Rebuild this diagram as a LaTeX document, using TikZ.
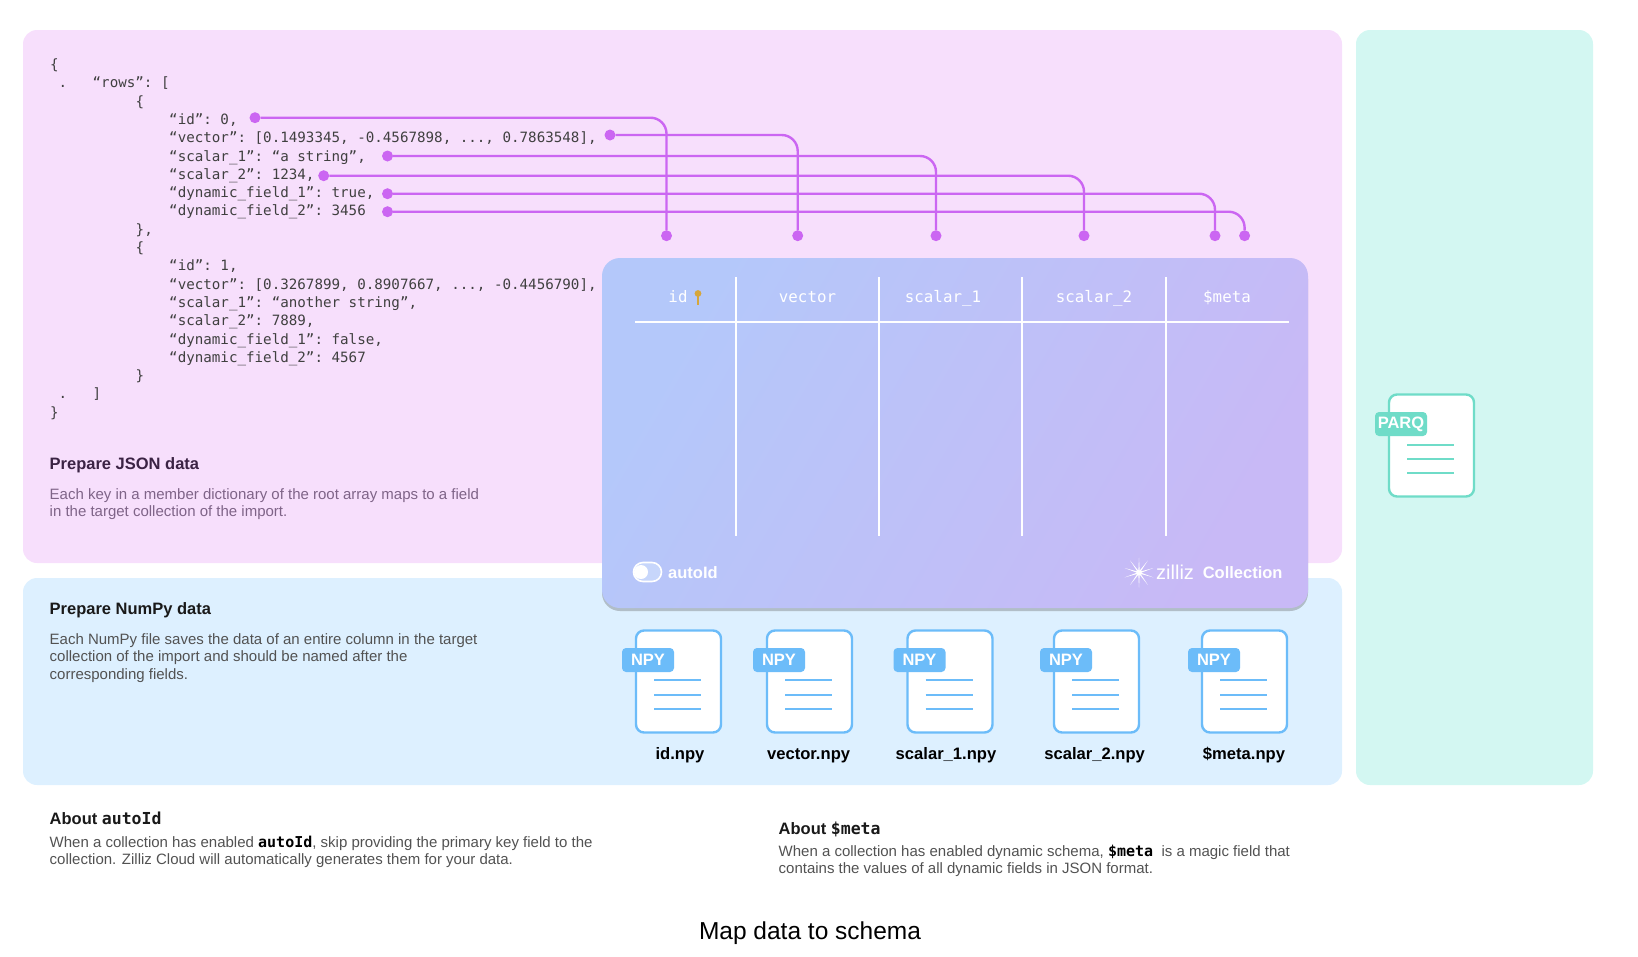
\documentclass[tikz,border=0pt]{standalone}
\usepackage{fontspec}
\setmainfont{Liberation Sans}
\setmonofont{DejaVu Sans Mono}
\usetikzlibrary{shapes.geometric}
\usetikzlibrary{shadows}
\definecolor{jsonpink}{HTML}{F7DFFC}
\definecolor{jsonhead}{HTML}{3B2344}
\definecolor{jsonbody}{HTML}{7F6488}
\definecolor{npyblue}{HTML}{DDF0FF}
\definecolor{parqteal}{HTML}{D3F7F2}
\definecolor{linkpurple}{HTML}{CB66F2}
\definecolor{npyedge}{HTML}{6CBCF9}
\definecolor{parqedge}{HTML}{6FDCC8}
\definecolor{cardleft}{HTML}{B4C8FA}
\definecolor{cardright}{HTML}{C8B9F6}
\definecolor{keygold}{HTML}{D6A63A}
\tikzset{
  panel/.style={rounded corners=14pt,inner sep=0pt},
  codeline/.style={anchor=base west,inner sep=0pt,text=black!75,font=\ttfamily\fontsize{14.2}{17}\selectfont},
  headline/.style={anchor=base west,inner sep=0pt,font=\bfseries\fontsize{16.5}{19}\selectfont},
  bodytext/.style={anchor=north west,inner sep=0pt,align=left,text=black!68,font=\fontsize{15}{17.4}\selectfont},
  linkdot/.style={circle,fill=linkpurple,inner sep=0pt,minimum size=11pt},
  linkline/.style={linkpurple,line width=2.4pt,rounded corners=16pt},
  column/.style={anchor=base,inner sep=0pt,text=white,font=\ttfamily\fontsize{15.8}{19}\selectfont},
  gridline/.style={white,line width=2pt},
  doc/.style={draw,fill=white,line width=2.4pt,rounded corners=8pt,inner sep=0pt,minimum width=85pt,minimum height=102pt},
  doctag/.style={rounded corners=4pt,inner sep=0pt,text=white,minimum height=24pt,font=\bfseries\fontsize{16.5}{20}\selectfont},
  docname/.style={anchor=base,inner sep=0pt,text=black,font=\bfseries\fontsize{16.6}{19}\selectfont},
}

\begin{document}
\begin{tikzpicture}[x=1pt,y=-1pt]
\useasboundingbox (0,0) rectangle (1638,956);

% panels
\node[panel,fill=jsonpink,minimum width=1319pt,minimum height=533pt] (json) at (682.5,296.5) {};
\node[panel,fill=npyblue,minimum width=1319pt,minimum height=207pt] (npy) at (682.5,681.5) {};
\node[panel,fill=parqteal,minimum width=237pt,minimum height=755pt] (parq) at (1474.5,407.5) {};

% json sample
\node[codeline] (j1) at (50,69.5) {\{};
\node[codeline] (j2) at (58.3,87.8) {.\ \ \ “rows”: [};
\node[codeline] (j3) at (135.5,106.1) {\{};
\node[codeline] (j4) at (169,124.4) {“id”: 0,};
\node[codeline] (j5) at (169,142.7) {“vector”: [0.1493345, -0.4567898, ..., 0.7863548],};
\node[codeline] (j6) at (169,161) {“scalar\_1”: “a string”,};
\node[codeline] (j7) at (169,179.3) {“scalar\_2”: 1234,};
\node[codeline] (j8) at (169,197.6) {“dynamic\_field\_1”: true,};
\node[codeline] (j9) at (169,215.9) {“dynamic\_field\_2”: 3456};
\node[codeline] (j10) at (135.5,234.2) {\},};
\node[codeline] (j11) at (135.5,252.5) {\{};
\node[codeline] (j12) at (169,270.8) {“id”: 1,};
\node[codeline] (j13) at (169,289.1) {“vector”: [0.3267899, 0.8907667, ..., -0.4456790],};
\node[codeline] (j14) at (169,307.4) {“scalar\_1”: “another string”,};
\node[codeline] (j15) at (169,325.7) {“scalar\_2”: 7889,};
\node[codeline] (j16) at (169,344) {“dynamic\_field\_1”: false,};
\node[codeline] (j17) at (169,362.3) {“dynamic\_field\_2”: 4567};
\node[codeline] (j18) at (135.5,380.6) {\}};
\node[codeline] (j19) at (58.3,398.9) {.\ \ \ ]};
\node[codeline] (j20) at (50,417.2) {\}};

% dots on the json keys
\node[linkdot] (kid) at (255,117.7) {};
\node[linkdot] (kvector) at (610,135) {};
\node[linkdot] (kscalar1) at (387.5,156) {};
\node[linkdot] (kscalar2) at (323.7,175.7) {};
\node[linkdot] (kdynamic1) at (387.5,193.7) {};
\node[linkdot] (kdynamic2) at (387.5,211.7) {};

% dots above the columns
\node[linkdot] (cid) at (666.5,235.7) {};
\node[linkdot] (cvector) at (797.7,235.7) {};
\node[linkdot] (cscalar1) at (936,235.7) {};
\node[linkdot] (cscalar2) at (1084,235.7) {};
\node[linkdot] (cdynamic1) at (1215,235.7) {};
\node[linkdot] (cdynamic2) at (1244.6,235.7) {};

\draw[linkline] (kid) -| (cid);
\draw[linkline] (kvector) -| (cvector);
\draw[linkline] (kscalar1) -| (cscalar1);
\draw[linkline] (kscalar2) -| (cscalar2);
\draw[linkline] (kdynamic1) -| (cdynamic1);
\draw[linkline] (kdynamic2) -| (cdynamic2);

% collection card
\node[rounded corners=18pt,inner sep=0pt,minimum width=706pt,minimum height=350pt,
      left color=cardleft,right color=cardright,shading angle=60,
      drop shadow={shadow xshift=0pt,shadow yshift=-3pt,opacity=.3,fill=black!70}] (card) at (955,433) {};

\draw[gridline] (635,322) -- (1289,322);
\draw[gridline] (736,277) -- (736,536);
\draw[gridline] (879,277) -- (879,536);
\draw[gridline] (1022,277) -- (1022,536);
\draw[gridline] (1165.5,277) -- (1165.5,536);

\node[column] (hid) at (678,302) {id};
\node[column] (hvector) at (807.5,302) {vector};
\node[column] (hscalar1) at (943,302) {scalar\_1};
\node[column] (hscalar2) at (1094,302) {scalar\_2};
\node[column] (hmeta) at (1227,302) {\$meta};

% key next to id
\fill[keygold] (698,293.5) circle (3.4pt);
\draw[keygold,line width=1.8pt] (698,294) -- (698,305);

% toggle
\node[draw=white,line width=1.6pt,fill=white!25!cardleft,rounded corners=9.5pt,inner sep=0pt,minimum width=28pt,minimum height=19pt] (toggle) at (647.5,572) {};
\node[circle,fill=white,inner sep=0pt,minimum size=14pt] (knob) at (641,572) {};
\node[anchor=base west,inner sep=0pt,text=white,font=\bfseries\fontsize{16.5}{19}\selectfont] (autoid) at (668,578) {autoId};

\node[star,star points=10,star point ratio=7,fill=white,inner sep=0pt,minimum size=30pt] (spark) at (1139,572.7) {};
\node[anchor=base west,inner sep=0pt,text=white,font=\fontsize{20}{22}\selectfont] (zilliz) at (1156,579) {zilliz};
\node[anchor=base west,inner sep=0pt,text=white,font=\bfseries\fontsize{16.5}{19}\selectfont] (collection) at (1202.6,578) {Collection};

% npy files
\node[doc,draw=npyedge] (f1) at (678.5,681.5) {};
\node[doc,draw=npyedge] (f2) at (809.5,681.5) {};
\node[doc,draw=npyedge] (f3) at (950,681.5) {};
\node[doc,draw=npyedge] (f4) at (1096.5,681.5) {};
\node[doc,draw=npyedge] (f5) at (1244.5,681.5) {};

\node[doctag,fill=npyedge,minimum width=52pt] (t1) at (648,660) {NPY};
\node[doctag,fill=npyedge,minimum width=52pt] (t2) at (779,660) {NPY};
\node[doctag,fill=npyedge,minimum width=52pt] (t3) at (919.5,660) {NPY};
\node[doctag,fill=npyedge,minimum width=52pt] (t4) at (1066,660) {NPY};
\node[doctag,fill=npyedge,minimum width=52pt] (t5) at (1214,660) {NPY};

\draw[npyedge,line width=2.4pt] (654,680) -- (701,680) (654,695) -- (701,695) (654,709) -- (701,709);
\draw[npyedge,line width=2.4pt] (785,680) -- (832,680) (785,695) -- (832,695) (785,709) -- (832,709);
\draw[npyedge,line width=2.4pt] (925.5,680) -- (972.5,680) (925.5,695) -- (972.5,695) (925.5,709) -- (972.5,709);
\draw[npyedge,line width=2.4pt] (1072,680) -- (1119,680) (1072,695) -- (1119,695) (1072,709) -- (1119,709);
\draw[npyedge,line width=2.4pt] (1220,680) -- (1267,680) (1220,695) -- (1267,695) (1220,709) -- (1267,709);

\node[docname] (n1) at (680,759) {id.npy};
\node[docname] (n2) at (808.6,759) {vector.npy};
\node[docname] (n3) at (946,759) {scalar\_1.npy};
\node[docname] (n4) at (1094.6,759) {scalar\_2.npy};
\node[docname] (n5) at (1244,759) {\$meta.npy};

% parquet file
\node[doc,draw=parqedge] (f6) at (1431.5,445.5) {};
\node[doctag,fill=parqedge,minimum width=52pt] (t6) at (1401,424) {PARQ};
\draw[parqedge,line width=2.4pt] (1407,444.7) -- (1454,444.7) (1407,459) -- (1454,459) (1407,473) -- (1454,473);

% texts
\node[headline,text=jsonhead] (jsonhead) at (49.5,469) {Prepare JSON data};
\node[bodytext,text=jsonbody] (jsonbody) at (49.5,488.5) {Each key in a member dictionary of the root array maps to a field\\in the target collection of the import.};

\node[headline,text=black!90] (npyhead) at (49.5,614) {Prepare NumPy data};
\node[bodytext] (npybody) at (49.5,633.5) {Each NumPy file saves the data of an entire column in the target\\collection of the import and should be named after the\\corresponding fields.};

\node[headline,text=black!90] (autohead) at (49.5,824) {About \texttt{autoId}};
\node[bodytext] (autobody) at (49.5,835.5) {When a collection has enabled \textcolor{black}{\bfseries\ttfamily autoId}, skip providing the primary key field to the\\collection. Zilliz Cloud will automatically generates them for your data.};

\node[headline,text=black!90] (metahead) at (778.5,834) {About \texttt{\$meta}};
\node[bodytext] (metabody) at (778.5,844.5) {When a collection has enabled dynamic schema, \textcolor{black}{\bfseries\ttfamily \$meta}\ \ is a magic field that\\contains the values of all dynamic fields in JSON format.};

\node[inner sep=0pt,text=black,font=\fontsize{24.5}{28}\selectfont] (caption) at (810,933.5) {Map data to schema};
\end{tikzpicture}
\end{document}
